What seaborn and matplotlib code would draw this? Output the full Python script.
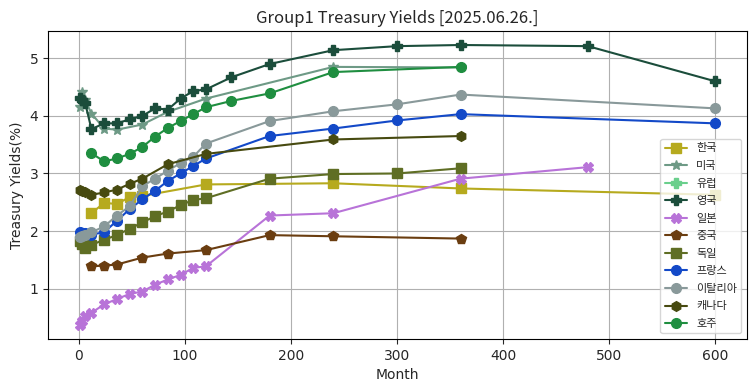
import numpy as np
import pandas as pd
import matplotlib
matplotlib.use("Agg")
import matplotlib.pyplot as plt
import seaborn as sns

sns.set_style("ticks")
plt.rcParams['font.family'] = ['Noto Sans CJK KR', 'DejaVu Sans']
plt.rcParams['axes.unicode_minus'] = False

# ---- data (months to maturity, yields %) ----
kr_m = [12, 24, 36, 48, 60, 120, 240, 360, 600]
kr_y = [2.31, 2.49, 2.47, 2.59, 2.61, 2.81, 2.83, 2.74, 2.63]

us_m = [1, 3, 6, 12, 24, 36, 60, 84, 120, 240, 360]
us_y = [4.15, 4.42, 4.28, 4.04, 3.78, 3.76, 3.85, 4.07, 4.30, 4.85, 4.84]

uk_m = [1, 3, 6, 12, 24, 36, 48, 60, 72, 84, 96, 108, 120, 144, 180, 240, 300, 360, 480, 600]
uk_y = [4.31, 4.27, 4.23, 3.77, 3.87, 3.87, 3.94, 4.00, 4.13, 4.11, 4.30, 4.43, 4.46, 4.67,
        4.90, 5.14, 5.21, 5.23, 5.21, 4.60]

jp_m = [1, 3, 6, 12, 24, 36, 48, 60, 72, 84, 96, 108, 120, 180, 240, 360, 480]
jp_y = [0.37, 0.44, 0.52, 0.58, 0.73, 0.82, 0.91, 0.95, 1.07, 1.16, 1.24, 1.36, 1.39,
        2.27, 2.31, 2.91, 3.11]

cn_m = [12, 24, 36, 60, 84, 120, 180, 240, 360]
cn_y = [1.39, 1.40, 1.42, 1.54, 1.61, 1.67, 1.93, 1.91, 1.87]

de_m = [1, 3, 6, 12, 24, 36, 48, 60, 72, 84, 96, 108, 120, 180, 240, 300, 360]
de_y = [1.83, 1.78, 1.71, 1.76, 1.85, 1.93, 2.04, 2.15, 2.26, 2.34, 2.45, 2.54, 2.57,
        2.91, 2.99, 3.00, 3.09]

fr_m = [1, 3, 6, 12, 24, 36, 48, 60, 72, 84, 96, 108, 120, 180, 240, 300, 360, 600]
fr_y = [1.98, 1.97, 1.96, 1.94, 1.98, 2.18, 2.38, 2.55, 2.70, 2.87, 3.00, 3.13, 3.26,
        3.65, 3.78, 3.92, 4.03, 3.87]

it_m = [1, 3, 6, 12, 24, 36, 48, 60, 72, 84, 96, 108, 120, 180, 240, 300, 360, 600]
it_y = [1.89, 1.92, 1.94, 1.98, 2.08, 2.27, 2.43, 2.78, 2.91, 3.05, 3.18, 3.29, 3.52,
        3.91, 4.08, 4.20, 4.37, 4.13]

ca_m = [1, 3, 6, 12, 24, 36, 48, 60, 84, 120, 240, 360]
ca_y = [2.71, 2.69, 2.67, 2.63, 2.67, 2.72, 2.82, 2.91, 3.16, 3.34, 3.59, 3.65]

au_m = [12, 24, 36, 48, 60, 72, 84, 96, 108, 120, 144, 180, 240, 360]
au_y = [3.35, 3.21, 3.26, 3.34, 3.46, 3.64, 3.79, 3.91, 4.03, 4.15, 4.26, 4.39, 4.76, 4.85]

series = [
    ("한국", kr_m, kr_y, "#B6AA1E", "s"),
    ("미국", us_m, us_y, "#6E9A86", "*"),
    ("유럽", [], [], "#6ACF8C", "P"),
    ("영국", uk_m, uk_y, "#1B4D3B", "P"),
    ("일본", jp_m, jp_y, "#B873D8", "X"),
    ("중국", cn_m, cn_y, "#6A3D10", "p"),
    ("독일", de_m, de_y, "#5F6E24", "s"),
    ("프랑스", fr_m, fr_y, "#1349C8", "o"),
    ("이탈리아", it_m, it_y, "#89999A", "o"),
    ("캐나다", ca_m, ca_y, "#474A10", "h"),
    ("호주", au_m, au_y, "#1F8E40", "o"),
]

fig = plt.figure(figsize=(7.55, 3.91), dpi=100)
ax = fig.add_axes([48/755, 1-339/391, (747-48)/755, (339-31)/391])

for name, m, y, col, mk in series:
    if len(m) == 0:
        ax.plot([], [], color=col, marker=mk, markersize=7, label=name)
        continue
    df = pd.DataFrame({"Month": m, "Yield": y})
    sns.lineplot(data=df, x="Month", y="Yield", ax=ax, color=col, marker=mk,
                 markersize=7, markeredgecolor=col, markeredgewidth=1,
                 linewidth=1.5, label=name)

ax.grid(True, color="#b0b0b0", linewidth=0.8)
ax.set_title("Group1 Treasury Yields [2025.06.26.]", fontsize=12)
ax.set_xlabel("Month", fontsize=10, family="DejaVu Sans")
ax.set_ylabel("Treasury Yields(%)", fontsize=10, family="DejaVu Sans")
ax.set_xticks([0, 100, 200, 300, 400, 500, 600])
ax.set_yticks([1, 2, 3, 4, 5])
ax.tick_params(labelsize=10)
for lab in ax.get_xticklabels() + ax.get_yticklabels():
    lab.set_family("DejaVu Sans")
for s in ax.spines.values():
    s.set_visible(True)
    s.set_color("black")
ax.legend(loc="lower right", fontsize=8, framealpha=0.8, labelspacing=0.68)

fig.savefig("out.png", dpi=100)
